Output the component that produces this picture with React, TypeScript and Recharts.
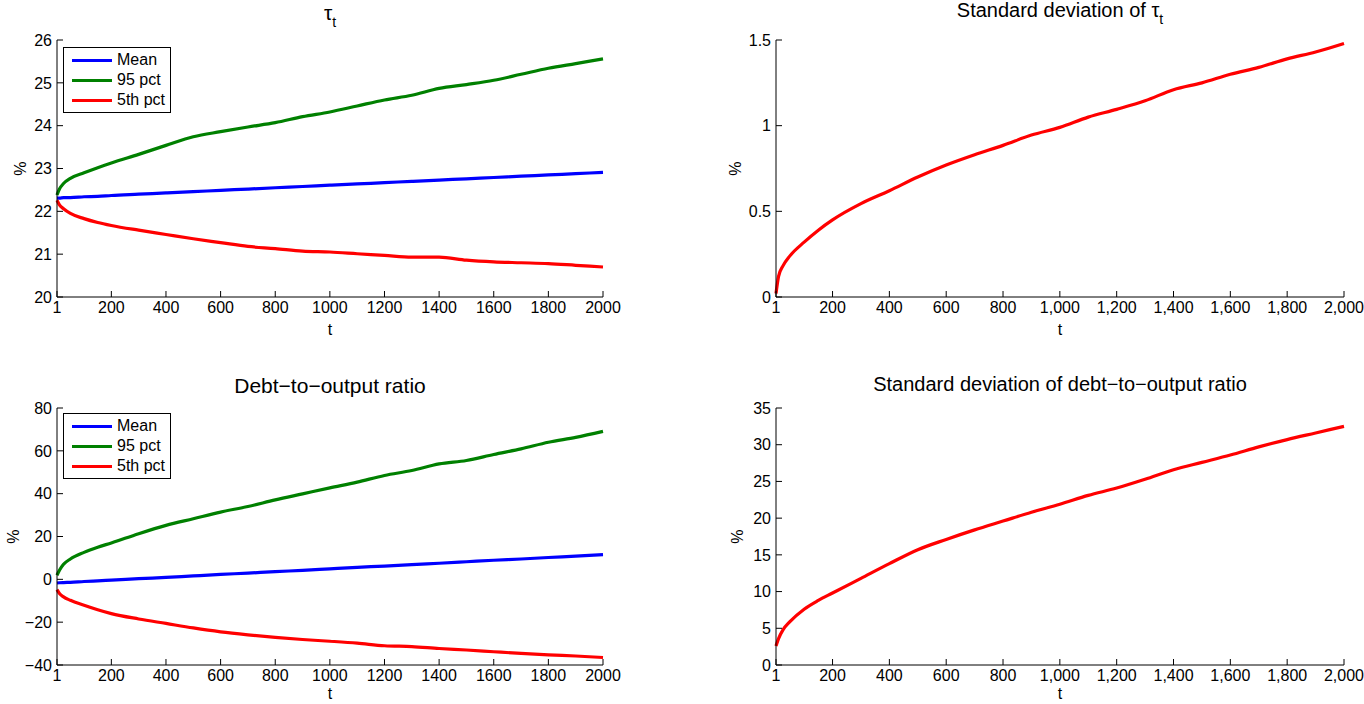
import React from 'react';
import { LineChart, Line, XAxis, YAxis, Legend } from 'recharts';

const FONT = '"Liberation Sans", Arial, Helvetica, sans-serif';

// sample points along t
const tPoints = [1, 10, 25, 50, 100, 150, 200, 300, 400, 500, 600, 700, 800, 900, 1000, 1100, 1200, 1300, 1400, 1500, 1600, 1700, 1800, 1900, 2000];

const tauMean = [22.31, 22.31, 22.32, 22.32, 22.34, 22.35, 22.37, 22.4, 22.43, 22.46, 22.49, 22.52, 22.55, 22.58, 22.61, 22.64, 22.67, 22.7, 22.73, 22.76, 22.79, 22.82, 22.85, 22.88, 22.91];
const tau95 = [22.38, 22.52, 22.65, 22.77, 22.9, 23.02, 23.13, 23.33, 23.54, 23.74, 23.86, 23.97, 24.07, 24.21, 24.32, 24.46, 24.6, 24.71, 24.87, 24.96, 25.06, 25.2, 25.34, 25.45, 25.56];
const tau5 = [22.26, 22.15, 22.06, 21.95, 21.83, 21.74, 21.67, 21.56, 21.46, 21.36, 21.27, 21.18, 21.13, 21.07, 21.05, 21.01, 20.97, 20.93, 20.93, 20.86, 20.82, 20.8, 20.78, 20.74, 20.7];
const tauSd = [0.02, 0.12, 0.18, 0.24, 0.32, 0.39, 0.45, 0.545, 0.62, 0.7, 0.77, 0.83, 0.885, 0.945, 0.99, 1.05, 1.095, 1.145, 1.21, 1.25, 1.3, 1.34, 1.39, 1.43, 1.48];

const debtMean = [-1.7, -1.6, -1.5, -1.4, -1.0, -0.7, -0.4, 0.3, 0.9, 1.6, 2.3, 2.9, 3.6, 4.2, 4.9, 5.6, 6.2, 6.9, 7.5, 8.2, 8.9, 9.5, 10.2, 10.8, 11.5];
const debt95 = [1.9, 4.2, 7.0, 9.5, 12.6, 15.0, 17.0, 21.3, 25.2, 28.3, 31.4, 34.0, 37.1, 39.9, 42.7, 45.4, 48.5, 50.8, 53.9, 55.5, 58.3, 60.9, 64.0, 66.3, 69.1];
const debt5 = [-4.8, -6.6, -8.2, -9.8, -12.1, -14.2, -16.0, -18.5, -20.6, -22.7, -24.5, -25.9, -27.1, -28.1, -28.9, -29.8, -31.0, -31.4, -32.3, -33.0, -33.8, -34.6, -35.3, -35.8, -36.5];
const debtSd = [2.6, 3.6, 4.75, 5.9, 7.6, 8.8, 9.8, 11.8, 13.8, 15.7, 17.1, 18.4, 19.6, 20.8, 21.9, 23.1, 24.1, 25.3, 26.6, 27.6, 28.6, 29.7, 30.7, 31.6, 32.5];

const xTicks = [1, 200, 400, 600, 800, 1000, 1200, 1400, 1600, 1800, 2000];
const tauTicks = [20, 21, 22, 23, 24, 25, 26];
const tauSdTicks = [0, 0.5, 1, 1.5];
const debtTicks = [-40, -20, 0, 20, 40, 60, 80];
const debtSdTicks = [0, 5, 10, 15, 20, 25, 30, 35];

const seriesNames = ['Mean', '95 pct', '5th pct'];
const seriesColors = ['#0000ff', '#008000', '#ff0000'];

const tauRows = tPoints.map((t, i) => ({ t, mean: tauMean[i], p95: tau95[i], p5: tau5[i], sd: tauSd[i] }));
const debtRows = tPoints.map((t, i) => ({ t, mean: debtMean[i], p95: debt95[i], p5: debt5[i], sd: debtSd[i] }));

const bandSeries = [
  { key: 'mean', name: seriesNames[0], color: seriesColors[0] },
  { key: 'p95', name: seriesNames[1], color: seriesColors[1] },
  { key: 'p5', name: seriesNames[2], color: seriesColors[2] },
];
const sdSeries = [{ key: 'sd', name: 'sd', color: '#ff0000' }];

const fmtPlain = (v: number) => (v < 0 ? '\u2212' + Math.abs(v) : String(v));
const fmtComma = (v: number) => v.toLocaleString('en-US');
const blank = () => '';

const W = 682;
const H = 352;

function LegendBox(props: any) {
  const items = [...(props.payload || [])].sort(
    (a: any, b: any) => seriesNames.indexOf(a.value) - seriesNames.indexOf(b.value)
  );
  return (
    <div
      style={{
        border: '1px solid #000',
        background: '#fff',
        padding: '2px 3px 2px 8px',
        width: 108,
        boxSizing: 'border-box',
        fontFamily: FONT,
        fontSize: 16,
        color: '#000',
        whiteSpace: 'nowrap',
      }}
    >
      {items.map((it: any) => (
        <div key={it.value} style={{ display: 'flex', alignItems: 'center', height: 20 }}>
          <span style={{ display: 'inline-block', flex: 'none', width: 40, height: 3, background: it.color, marginRight: 5 }} />
          <span>{it.value}</span>
        </div>
      ))}
    </div>
  );
}

function Panel(p: any) {
  const tickStyle = { fill: '#000', fontSize: 16, fontFamily: FONT };
  return (
    <div style={{ position: 'absolute', left: p.left, top: p.top, width: W, height: H }}>
      <div
        style={{
          position: 'absolute',
          left: p.yw + (W - p.yw - p.mr) / 2 - 300,
          width: 600,
          top: p.titleTop,
          textAlign: 'center',
          fontFamily: FONT,
          fontSize: p.titleSize,
          lineHeight: p.titleSize + 'px',
          color: '#000',
          zIndex: 2,
          whiteSpace: 'nowrap',
        }}
      >
        {p.title}
      </div>
      <LineChart width={W} height={H} data={p.data} margin={{ top: p.mt, right: p.mr, bottom: 0, left: 0 }}>
        <XAxis
          dataKey="t"
          type="number"
          domain={[1, 2000]}
          ticks={xTicks}
          interval={0}
          tickFormatter={p.xFmt}
          tickSize={-6}
          tickMargin={11}
          height={p.xh}
          stroke="#000"
          tick={tickStyle}
          label={{ value: 't', position: 'insideBottom', offset: p.tOff, fill: '#000', fontSize: 16, fontFamily: FONT }}
        />
        <XAxis xAxisId="top" orientation="top" type="number" domain={[1, 2000]} ticks={xTicks} interval={0} tickFormatter={blank} tickSize={-6} height={0} stroke="#000" />
        <YAxis
          yAxisId="l"
          type="number"
          domain={p.yDomain}
          ticks={p.yTicks}
          interval={0}
          tickFormatter={fmtPlain}
          tickSize={-6}
          tickMargin={11}
          width={p.yw}
          stroke="#000"
          tick={tickStyle}
          label={{ value: '%', angle: -90, position: 'insideLeft', offset: p.pctOff, fill: '#000', fontSize: 16, fontFamily: FONT, style: { textAnchor: 'middle' } }}
        />
        <YAxis yAxisId="r" orientation="right" type="number" domain={p.yDomain} ticks={p.yTicks} interval={0} tickFormatter={blank} tickSize={-6} width={0} stroke="#000" />
        {p.series.map((s: any) => (
          <Line
            key={s.key}
            yAxisId="l"
            type="monotone"
            dataKey={s.key}
            name={s.name}
            stroke={s.color}
            strokeWidth={3.2}
            dot={false}
            activeDot={false}
            isAnimationActive={false}
          />
        ))}
        {p.legendTop != null && (
          <Legend
            layout="vertical"
            align="center"
            verticalAlign="middle"
            itemSorter={null}
            content={<LegendBox />}
            wrapperStyle={{ left: 63, top: p.legendTop, width: 'auto', height: 'auto' }}
          />
        )}
      </LineChart>
    </div>
  );
}

const sub = (ch: string) => <span style={{ fontSize: 14, position: 'relative', top: 7 }}>{ch}</span>;

export default function App() {
  return (
    <div style={{ position: 'absolute', left: 0, top: 0, width: 1364, height: 704, background: '#fff', overflow: 'hidden' }}>
      <Panel
        left={0} top={0} data={tauRows} series={bandSeries}
        yw={57} mr={79} mt={40} xh={55} tOff={17} pctOff={20} titleTop={2} titleSize={21} legendTop={47}
        yDomain={[20, 26]} yTicks={tauTicks} xFmt={fmtPlain}
        title={<span>τ{sub('t')}</span>}
      />
      <Panel
        left={682} top={0} data={tauRows} series={sdSeries}
        yw={94} mr={20} mt={40} xh={55} tOff={17} pctOff={53} titleTop={0} titleSize={20}
        yDomain={[0, 1.5]} yTicks={tauSdTicks} xFmt={fmtComma}
        title={<span>Standard deviation of τ{sub('t')}</span>}
      />
      <Panel
        left={0} top={352} data={debtRows} series={bandSeries}
        yw={57} mr={79} mt={56} xh={39} tOff={5} pctOff={13} titleTop={23} titleSize={21} legendTop={61}
        yDomain={[-40, 80]} yTicks={debtTicks} xFmt={fmtPlain}
        title={<span>Debt−to−output ratio</span>}
      />
      <Panel
        left={682} top={352} data={debtRows} series={sdSeries}
        yw={94} mr={20} mt={56} xh={39} tOff={5} pctOff={55} titleTop={22} titleSize={20}
        yDomain={[0, 35]} yTicks={debtSdTicks} xFmt={fmtComma}
        title={<span>Standard deviation of debt−to−output ratio</span>}
      />
    </div>
  );
}
